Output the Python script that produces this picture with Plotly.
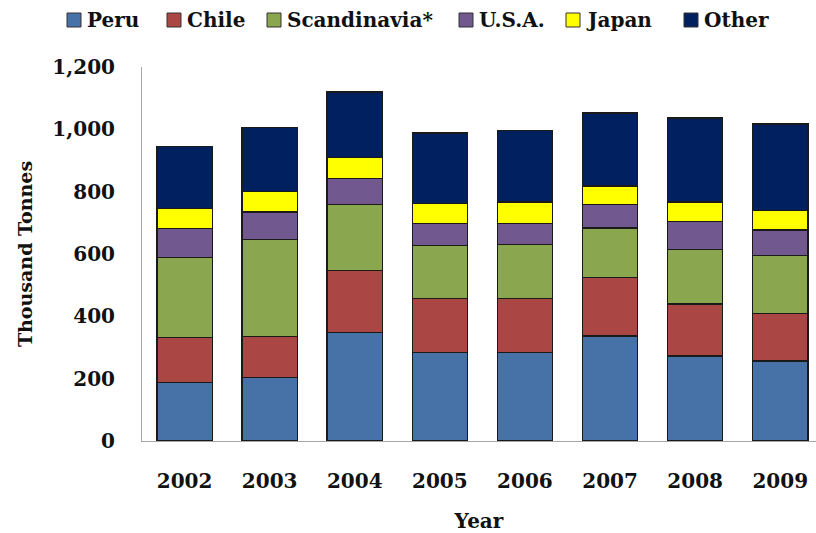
import plotly.graph_objects as go

# Fishmeal supply by origin, thousand tonnes
years = ["2002", "2003", "2004", "2005", "2006", "2007", "2008", "2009"]
peru = [188, 204, 349, 285, 285, 337, 273, 257]
chile = [145, 132, 199, 172, 172, 187, 167, 153]
scandinavia = [255, 311, 210, 171, 174, 159, 175, 186]
usa = [94, 88, 85, 69, 67, 76, 89, 81]
japan = [63, 66, 66, 66, 69, 59, 63, 62]
other = [201, 205, 211, 225, 230, 234, 269, 278]

y_ticks = [0, 200, 400, 600, 800, 1000, 1200]

series = [
    ("Peru", peru, "#4672A8"),
    ("Chile", chile, "#AA4643"),
    ("Scandinavia*", scandinavia, "#8AA64E"),
    ("U.S.A.", usa, "#71588F"),
    ("Japan", japan, "#FFFF00"),
    ("Other", other, "#002060"),
]

FONT = "DejaVu Serif"
W, H = 816, 533
ML, MR, MT, MB = 142, 0, 67, 92
PW, PH = W - ML - MR, H - MT - MB


def px_x(px):
    """Page pixel column -> paper x."""
    return (px - ML) / PW


def px_y(py):
    """Page pixel row -> paper y."""
    return (H - MB - py) / PH


fig = go.Figure()
for name, vals, color in series:
    fig.add_trace(go.Bar(
        x=years, y=vals, name=name, showlegend=False,
        marker=dict(color=color, line=dict(color="#1a1a1a", width=1.3)),
    ))

totals = [sum(v) for v in zip(peru, chile, scandinavia, usa, japan, other)]
for yr, tot in zip(years, totals):
    fig.add_annotation(
        x=yr, y=tot, text=f"<b>{tot:,}</b>", showarrow=False,
        yshift=19, font=dict(family=FONT, size=16, color="#111111"),
    )

# Legend row across the top: a swatch and a label per series
legend_left = [67, 167, 267, 459, 566, 684]
legend_row = 20
for (name, _, color), lx in zip(series, legend_left):
    fig.add_shape(
        type="rect", xref="paper", yref="paper",
        xsizemode="pixel", ysizemode="pixel",
        xanchor=px_x(lx), yanchor=px_y(legend_row),
        x0=0, x1=14, y0=-7, y1=7,
        fillcolor=color, line=dict(color="#333333", width=1),
    )
    fig.add_annotation(
        xref="paper", yref="paper", x=px_x(lx + 18), y=px_y(legend_row),
        xanchor="left", yanchor="middle", text=f"<b>{name}</b>",
        showarrow=False, font=dict(family=FONT, size=20, color="#111111"),
    )

fig.update_layout(
    width=W, height=H,
    margin=dict(l=ML, r=MR, t=MT, b=MB),
    barmode="stack", bargap=0.35,
    plot_bgcolor="white", paper_bgcolor="white",
    font=dict(family=FONT, color="#111111"),
    showlegend=False,
    xaxis=dict(
        range=[-0.5, 7.42], showline=True, linecolor="#a6a6a6", linewidth=1,
        showgrid=False, ticks="", ticklabelstandoff=22,
        tickfont=dict(family=FONT, size=20, weight="bold"),
        title=dict(text="<b>Year</b>", font=dict(family=FONT, size=20), standoff=24),
    ),
    yaxis=dict(
        range=[0, 1200], tickvals=y_ticks, ticktext=[f"{v:,}" for v in y_ticks],
        showline=True, linecolor="#a6a6a6", linewidth=1, showgrid=False,
        zeroline=False, ticks="", ticklabelstandoff=22,
        tickfont=dict(family=FONT, size=20, weight="bold"),
        title=dict(text="<b>Thousand Tonnes</b>", font=dict(family=FONT, size=19), standoff=14),
    ),
)

fig.write_html("out.html")
